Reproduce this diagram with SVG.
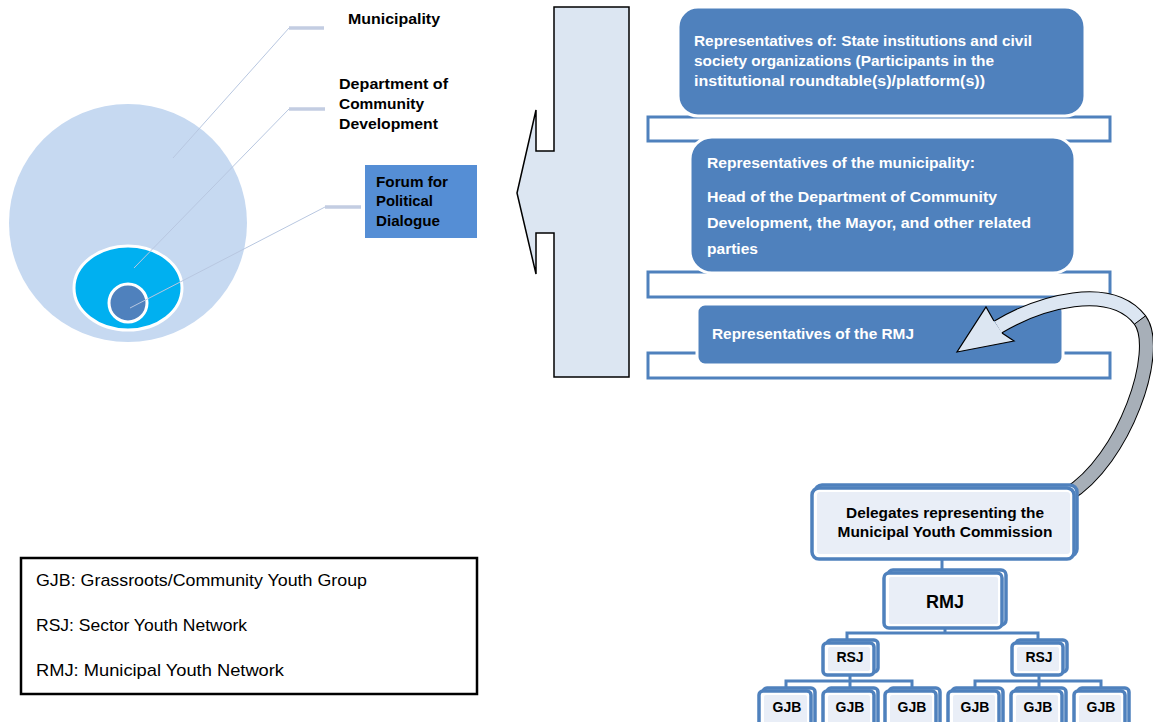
<svg xmlns="http://www.w3.org/2000/svg" width="1153" height="722" viewBox="0 0 1153 722">
<style>
.lead{stroke:#B8C7E0;stroke-width:1;fill:none}
.bar{stroke:#C3CDE2;stroke-width:3.5;fill:none}
.lbl{font-family:"Liberation Sans",Arial,sans-serif;font-weight:bold;font-size:15px;fill:#000}
.wt{font-family:"Liberation Sans",Arial,sans-serif;font-weight:bold;font-size:14px;fill:#fff}
.bx{fill:#4F81BD;stroke:#fff;stroke-width:3}
.brk{fill:#fff;stroke:#4F81BD;stroke-width:3}
.hb{fill:#fff;stroke:#4F81BD;stroke-width:3.5}
.hi{fill:#E9EEF7}
.ht{font-family:"Liberation Sans",Arial,sans-serif;font-weight:bold;font-size:14px;fill:#000;text-anchor:middle}
.conn{stroke:#4F81BD;stroke-width:3;fill:none}
.leg{font-family:"Liberation Sans",Arial,sans-serif;font-size:17px;fill:#000}
</style>

<g id="circles">
<circle cx="128" cy="223" r="119" fill="#C6D9F1"/>
<ellipse cx="128" cy="288" rx="54" ry="42" fill="#00B0F0" stroke="#fff" stroke-width="3"/>
<circle cx="128" cy="303" r="19" fill="#4F81BD" stroke="#fff" stroke-width="3"/>
</g>

<g id="leaders">
<path class="lead" d="M173,158 L289,28"/>
<path class="bar" d="M289,28 H324"/>
<path class="lead" d="M134,268 L289,109"/>
<path class="bar" d="M289,109 H325"/>
<path class="lead" d="M130,308 L325,207"/>
<path class="bar" d="M325,207 H361"/>
</g>

<g id="label-municipality">
<text class="lbl" x="348" y="24" textLength="92" lengthAdjust="spacingAndGlyphs">Municipality</text>
</g>
<g id="label-department">
<text class="lbl" x="339" y="89" textLength="109" lengthAdjust="spacingAndGlyphs">Department of</text>
<text class="lbl" x="339" y="109" textLength="85" lengthAdjust="spacingAndGlyphs">Community</text>
<text class="lbl" x="339" y="129" textLength="99" lengthAdjust="spacingAndGlyphs">Development</text>
</g>
<g id="label-forum">
<rect x="365" y="165" width="112" height="73" fill="#558ED5"/>
<text class="lbl" x="376" y="187" textLength="72" lengthAdjust="spacingAndGlyphs">Forum for</text>
<text class="lbl" x="376" y="206" textLength="57" lengthAdjust="spacingAndGlyphs">Political</text>
<text class="lbl" x="376" y="226" textLength="64" lengthAdjust="spacingAndGlyphs">Dialogue</text>
</g>

<g id="big-arrow">
<path d="M554,7 H629 V377 H554 V233 H536 V274 L517,193 L536,110 V151 H554 Z" fill="#DCE6F2" stroke="#000" stroke-width="1.5"/>
</g>

<g id="brackets">
<rect class="brk" x="648" y="117" width="462" height="24"/>
<rect class="brk" x="648" y="272" width="462" height="25"/>
<rect class="brk" x="648" y="353" width="462" height="25"/>
</g>

<g id="box-state">
<rect class="bx" x="678" y="7" width="407" height="109" rx="20"/>
<text class="wt" x="694" y="46" textLength="338" lengthAdjust="spacingAndGlyphs">Representatives of: State institutions and civil</text>
<text class="wt" x="694" y="66" textLength="300" lengthAdjust="spacingAndGlyphs">society organizations (Participants in the</text>
<text class="wt" x="694" y="86" textLength="291" lengthAdjust="spacingAndGlyphs">institutional roundtable(s)/platform(s))</text>
</g>

<g id="box-municipality">
<rect class="bx" x="690" y="137" width="385" height="136" rx="22"/>
<text class="wt" x="707" y="168" textLength="268" lengthAdjust="spacingAndGlyphs">Representatives of the municipality:</text>
<text class="wt" x="707" y="202" textLength="290" lengthAdjust="spacingAndGlyphs">Head of the Department of Community</text>
<text class="wt" x="707" y="228" textLength="324" lengthAdjust="spacingAndGlyphs">Development, the Mayor, and other related</text>
<text class="wt" x="707" y="254" textLength="51" lengthAdjust="spacingAndGlyphs">parties</text>
</g>

<g id="box-rmj-rep">
<rect class="bx" x="697" y="304" width="366" height="61" rx="8"/>
<text class="wt" x="712" y="339" textLength="202" lengthAdjust="spacingAndGlyphs">Representatives of the RMJ</text>
</g>

<g id="connectors">
<path d="M998,327 C1040,302 1110,282 1140,320 C1162,350 1125,460 1067,495" stroke="#000" stroke-width="15" fill="none"/>
<path d="M998,327 C1040,302 1110,282 1140,320" stroke="#DCE6F2" stroke-width="13" fill="none"/>
<path d="M1140,320 C1162,350 1125,460 1067,495" stroke="#A7AFB8" stroke-width="13" fill="none"/>
<path d="M1134.4,324.2 L1145.6,315.8 M1063.4,489 L1070.6,501" stroke="#000" stroke-width="1" fill="none"/>
<path d="M994,321 L986,307 L957,352 L1014,341 L1002,333" fill="#DCE6F2" stroke="#000" stroke-width="1.2"/>
<path class="conn" d="M942,559 V571"/>
<path class="conn" d="M945,628 V633 M847,640 V633 H1038 V640"/>
<path class="conn" d="M850,675 V681 M786,688 V681 H912 V688 M850,681 V688"/>
<path class="conn" d="M1039,675 V681 M975,688 V681 H1101 V688 M1039,681 V688"/>
</g>

<g id="node-delegates">
<rect class="hb" x="815" y="485" width="262" height="71" rx="7"/>
<rect class="hb" x="812" y="488" width="262" height="71" rx="7"/>
<rect class="hi" x="817" y="492" width="253" height="62" rx="3"/>
<text class="ht" x="945" y="518" textLength="198" lengthAdjust="spacingAndGlyphs">Delegates representing the</text>
<text class="ht" x="945" y="537" textLength="215" lengthAdjust="spacingAndGlyphs">Municipal Youth Commission</text>
</g>

<g id="node-rmj">
<rect class="hb" x="888" y="570" width="118" height="55" rx="5"/>
<rect class="hb" x="884" y="573" width="118" height="55" rx="5"/>
<rect class="hi" x="889" y="577" width="109" height="47" rx="2"/>
<text class="ht" x="945" y="608" style="font-size:18px">RMJ</text>
</g>

<g id="node-rsj-1">
<rect class="hb" x="827" y="640" width="51" height="32" rx="4"/>
<rect class="hb" x="823" y="643" width="51" height="32" rx="4"/>
<rect class="hi" x="828" y="647" width="42" height="24" rx="2"/>
<text class="ht" x="850" y="662">RSJ</text>
</g>
<g id="node-rsj-2">
<rect class="hb" x="1016" y="640" width="51" height="32" rx="4"/>
<rect class="hb" x="1012" y="643" width="51" height="32" rx="4"/>
<rect class="hi" x="1017" y="647" width="42" height="24" rx="2"/>
<text class="ht" x="1039" y="662">RSJ</text>
</g>

<g id="node-gjb-1">
<rect class="hb" x="763" y="688" width="52" height="40" rx="4"/>
<rect class="hb" x="759" y="691" width="52" height="40" rx="4"/>
<rect class="hi" x="764" y="695" width="43" height="30" rx="2"/>
<text class="ht" x="787" y="712">GJB</text>
</g>
<g id="node-gjb-2">
<rect class="hb" x="827" y="688" width="51" height="40" rx="4"/>
<rect class="hb" x="823" y="691" width="51" height="40" rx="4"/>
<rect class="hi" x="828" y="695" width="42" height="30" rx="2"/>
<text class="ht" x="850" y="712">GJB</text>
</g>
<g id="node-gjb-3">
<rect class="hb" x="889" y="688" width="51" height="40" rx="4"/>
<rect class="hb" x="885" y="691" width="51" height="40" rx="4"/>
<rect class="hi" x="890" y="695" width="42" height="30" rx="2"/>
<text class="ht" x="912" y="712">GJB</text>
</g>
<g id="node-gjb-4">
<rect class="hb" x="952" y="688" width="51" height="40" rx="4"/>
<rect class="hb" x="948" y="691" width="51" height="40" rx="4"/>
<rect class="hi" x="953" y="695" width="42" height="30" rx="2"/>
<text class="ht" x="975" y="712">GJB</text>
</g>
<g id="node-gjb-5">
<rect class="hb" x="1015" y="688" width="51" height="40" rx="4"/>
<rect class="hb" x="1011" y="691" width="51" height="40" rx="4"/>
<rect class="hi" x="1016" y="695" width="42" height="30" rx="2"/>
<text class="ht" x="1038" y="712">GJB</text>
</g>
<g id="node-gjb-6">
<rect class="hb" x="1078" y="688" width="51" height="40" rx="4"/>
<rect class="hb" x="1074" y="691" width="51" height="40" rx="4"/>
<rect class="hi" x="1079" y="695" width="42" height="30" rx="2"/>
<text class="ht" x="1101" y="712">GJB</text>
</g>

<g id="legend">
<rect x="21" y="558" width="456" height="136" fill="#fff" stroke="#000" stroke-width="2.5"/>
<text class="leg" x="36" y="586" textLength="331" lengthAdjust="spacingAndGlyphs">GJB: Grassroots/Community Youth Group</text>
<text class="leg" x="36" y="631" textLength="211" lengthAdjust="spacingAndGlyphs">RSJ: Sector Youth Network</text>
<text class="leg" x="36" y="676" textLength="248" lengthAdjust="spacingAndGlyphs">RMJ: Municipal Youth Network</text>
</g>
</svg>
